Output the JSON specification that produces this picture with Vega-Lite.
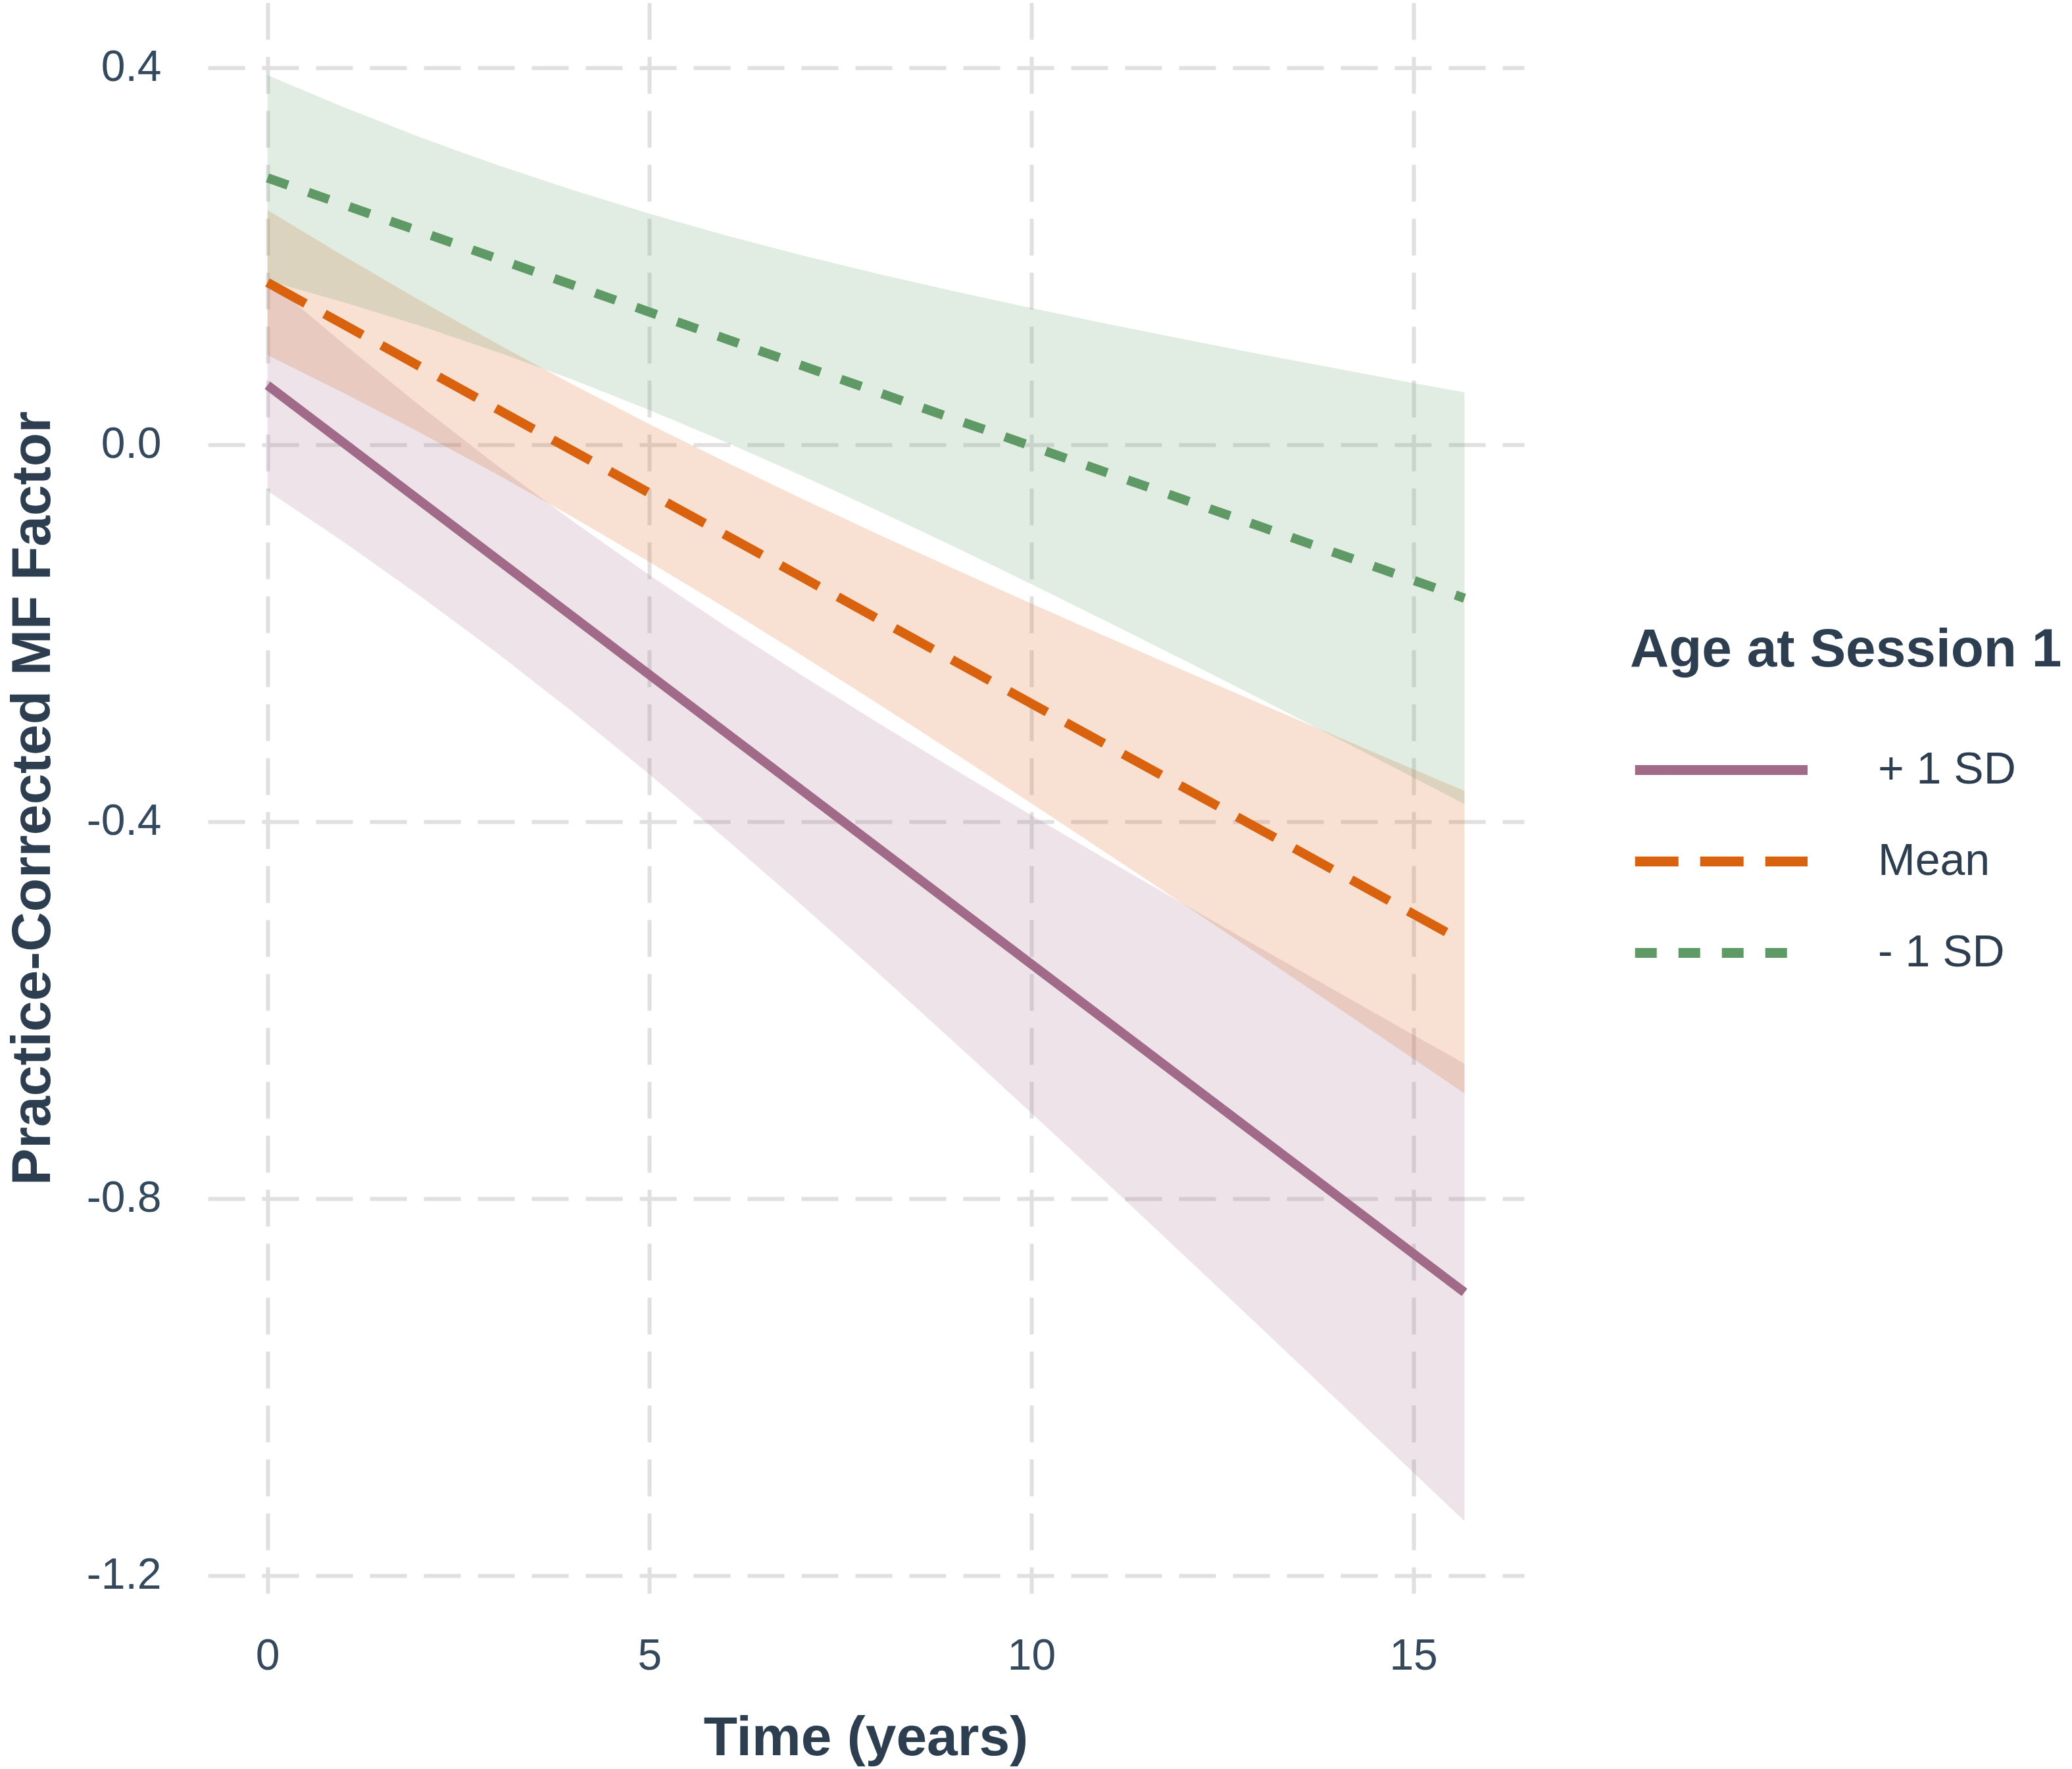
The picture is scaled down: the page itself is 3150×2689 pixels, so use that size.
{
  "$schema": "https://vega.github.io/schema/vega-lite/v6.json",
  "autosize": {"type": "none"},
  "padding": {"left": 316, "top": 4, "right": 833, "bottom": 267},
  "width": 2001,
  "height": 2418,
  "background": "white",
  "data": {"values": [
    {"g": "+ 1 SD", "t": 0, "est": 0.063, "lo": -0.049, "hi": 0.175},
    {"g": "+ 1 SD", "t": 1, "est": 0.0016, "lo": -0.1035, "hi": 0.1067},
    {"g": "+ 1 SD", "t": 2, "est": -0.0599, "lo": -0.1608, "hi": 0.041},
    {"g": "+ 1 SD", "t": 3, "est": -0.1213, "lo": -0.2208, "hi": -0.0218},
    {"g": "+ 1 SD", "t": 4, "est": -0.1827, "lo": -0.2839, "hi": -0.0815},
    {"g": "+ 1 SD", "t": 5, "est": -0.2442, "lo": -0.3499, "hi": -0.1385},
    {"g": "+ 1 SD", "t": 6, "est": -0.3056, "lo": -0.4184, "hi": -0.1928},
    {"g": "+ 1 SD", "t": 7, "est": -0.367, "lo": -0.4889, "hi": -0.2451},
    {"g": "+ 1 SD", "t": 8, "est": -0.4284, "lo": -0.5612, "hi": -0.2956},
    {"g": "+ 1 SD", "t": 9, "est": -0.4899, "lo": -0.6348, "hi": -0.345},
    {"g": "+ 1 SD", "t": 10, "est": -0.5513, "lo": -0.7093, "hi": -0.3933},
    {"g": "+ 1 SD", "t": 11, "est": -0.6127, "lo": -0.7845, "hi": -0.4409},
    {"g": "+ 1 SD", "t": 12, "est": -0.6742, "lo": -0.8605, "hi": -0.4879},
    {"g": "+ 1 SD", "t": 13, "est": -0.7356, "lo": -0.9368, "hi": -0.5344},
    {"g": "+ 1 SD", "t": 14, "est": -0.797, "lo": -1.0136, "hi": -0.5804},
    {"g": "+ 1 SD", "t": 15, "est": -0.8585, "lo": -1.0907, "hi": -0.6263},
    {"g": "+ 1 SD", "t": 15.67, "est": -0.8996, "lo": -1.1424, "hi": -0.6568},
    {"g": "Mean", "t": 0, "est": 0.172, "lo": 0.095, "hi": 0.249},
    {"g": "Mean", "t": 1, "est": 0.1273, "lo": 0.0546, "hi": 0.2},
    {"g": "Mean", "t": 2, "est": 0.0827, "lo": 0.0126, "hi": 0.1528},
    {"g": "Mean", "t": 3, "est": 0.038, "lo": -0.0313, "hi": 0.1073},
    {"g": "Mean", "t": 4, "est": -0.0067, "lo": -0.077, "hi": 0.0636},
    {"g": "Mean", "t": 5, "est": -0.0514, "lo": -0.1245, "hi": 0.0217},
    {"g": "Mean", "t": 6, "est": -0.096, "lo": -0.1735, "hi": -0.0185},
    {"g": "Mean", "t": 7, "est": -0.1407, "lo": -0.2239, "hi": -0.0575},
    {"g": "Mean", "t": 8, "est": -0.1854, "lo": -0.2754, "hi": -0.0954},
    {"g": "Mean", "t": 9, "est": -0.23, "lo": -0.3277, "hi": -0.1323},
    {"g": "Mean", "t": 10, "est": -0.2747, "lo": -0.3807, "hi": -0.1687},
    {"g": "Mean", "t": 11, "est": -0.3194, "lo": -0.4343, "hi": -0.2045},
    {"g": "Mean", "t": 12, "est": -0.364, "lo": -0.4881, "hi": -0.2399},
    {"g": "Mean", "t": 13, "est": -0.4087, "lo": -0.5424, "hi": -0.275},
    {"g": "Mean", "t": 14, "est": -0.4534, "lo": -0.597, "hi": -0.3098},
    {"g": "Mean", "t": 15, "est": -0.4981, "lo": -0.6517, "hi": -0.3445},
    {"g": "Mean", "t": 15.67, "est": -0.528, "lo": -0.6885, "hi": -0.3675},
    {"g": "- 1 SD", "t": 0, "est": 0.283, "lo": 0.174, "hi": 0.392},
    {"g": "- 1 SD", "t": 1, "est": 0.2545, "lo": 0.151, "hi": 0.358},
    {"g": "- 1 SD", "t": 2, "est": 0.2261, "lo": 0.126, "hi": 0.326},
    {"g": "- 1 SD", "t": 3, "est": 0.1976, "lo": 0.0985, "hi": 0.297},
    {"g": "- 1 SD", "t": 4, "est": 0.1692, "lo": 0.0688, "hi": 0.27},
    {"g": "- 1 SD", "t": 5, "est": 0.1407, "lo": 0.0367, "hi": 0.245},
    {"g": "- 1 SD", "t": 6, "est": 0.1122, "lo": 0.0026, "hi": 0.222},
    {"g": "- 1 SD", "t": 7, "est": 0.0838, "lo": -0.0331, "hi": 0.2007},
    {"g": "- 1 SD", "t": 8, "est": 0.0553, "lo": -0.0704, "hi": 0.181},
    {"g": "- 1 SD", "t": 9, "est": 0.0269, "lo": -0.1087, "hi": 0.1625},
    {"g": "- 1 SD", "t": 10, "est": -0.0016, "lo": -0.1481, "hi": 0.1449},
    {"g": "- 1 SD", "t": 11, "est": -0.0301, "lo": -0.1882, "hi": 0.128},
    {"g": "- 1 SD", "t": 12, "est": -0.0585, "lo": -0.2288, "hi": 0.1118},
    {"g": "- 1 SD", "t": 13, "est": -0.087, "lo": -0.2699, "hi": 0.0959},
    {"g": "- 1 SD", "t": 14, "est": -0.1154, "lo": -0.3114, "hi": 0.0806},
    {"g": "- 1 SD", "t": 15, "est": -0.1439, "lo": -0.3532, "hi": 0.0654},
    {"g": "- 1 SD", "t": 15.67, "est": -0.163, "lo": -0.3814, "hi": 0.0554}
  ]},
  "encoding": {
    "x": {
      "field": "t", "type": "quantitative",
      "scale": {"domain": [-0.78, 16.45], "nice": false, "zero": false},
      "axis": {
        "title": "Time (years)", "values": [0, 5, 10, 15], "format": "d",
        "domain": false, "ticks": false,
        "labelFont": "Liberation Sans", "labelFontSize": 66, "labelColor": "#34495e",
        "labelPadding": 63, "labelBaseline": "top",
        "grid": true, "gridColor": "#e0e0e0", "gridWidth": 6, "gridDash": [56, 26],
        "titleFont": "Liberation Sans", "titleFontSize": 84, "titleFontWeight": "bold",
        "titleColor": "#2c3e50", "titleX": 1000, "titleY": 245, "titleBaseline": "alphabetic"
      }
    },
    "y": {
      "type": "quantitative",
      "scale": {"domain": [-1.219, 0.469], "nice": false, "zero": false},
      "axis": {
        "title": "Practice-Corrected MF Factor",
        "values": [-1.2, -0.8, -0.4, 0, 0.4],
        "labelExpr": "replace(format(datum.value, '.1f'), '\u2212', '-')",
        "domain": false, "ticks": false,
        "labelFont": "Liberation Sans", "labelFontSize": 66, "labelColor": "#34495e",
        "labelPadding": 71,
        "grid": true, "gridColor": "#e0e0e0", "gridWidth": 6, "gridDash": [56, 26],
        "titleFont": "Liberation Sans", "titleFontSize": 84, "titleFontWeight": "bold",
        "titleColor": "#2c3e50", "titleX": -241, "titleY": 1209, "titleBaseline": "alphabetic",
        "titleAngle": -90
      }
    },
    "color": {
      "field": "g", "type": "nominal", "title": "Age at Session 1",
      "scale": {"domain": ["+ 1 SD", "Mean", "- 1 SD"], "range": ["#a06a88", "#d9620f", "#5f9a66"]}
    }
  },
  "layer": [
    {
      "mark": {"type": "area", "fillOpacity": 0.19},
      "encoding": {
        "y": {"field": "lo"},
        "y2": {"field": "hi"}
      }
    },
    {
      "mark": {"type": "line", "strokeWidth": 14, "strokeCap": "butt"},
      "encoding": {
        "y": {"field": "est"},
        "strokeDash": {
          "field": "g", "type": "nominal", "title": "Age at Session 1",
          "scale": {"domain": ["+ 1 SD", "Mean", "- 1 SD"], "range": [[1, 0], [66, 33], [33, 33]]}
        }
      }
    }
  ],
  "config": {
    "view": {"stroke": null},
    "legend": {
      "orient": "none", "legendX": 2162, "legendY": 944,
      "symbolType": "M-1,0H7", "symbolSize": 4300, "symbolStrokeWidth": 15,
      "symbolFillColor": "transparent", "symbolOpacity": 1,
      "rowPadding": 64,
      "labelFont": "Liberation Sans", "labelFontSize": 68, "labelColor": "#2c3e50",
      "labelOffset": 296,
      "titleFont": "Liberation Sans", "titleFontSize": 82, "titleFontWeight": "bold",
      "titleColor": "#2c3e50", "titleBaseline": "top", "titleAlign": "left", "titlePadding": 100,
      "titleLimit": 900, "labelLimit": 600,
      "padding": 0
    }
  }
}
